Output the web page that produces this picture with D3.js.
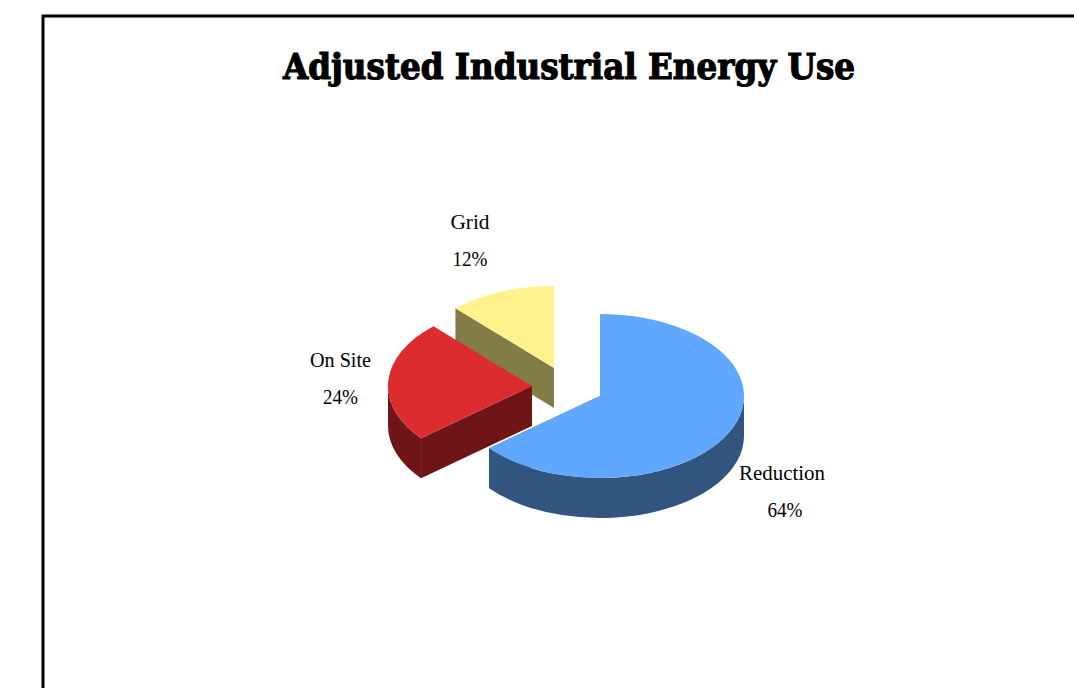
<!DOCTYPE html>
<html>
<head>
<meta charset="utf-8">
<script src="https://cdn.jsdelivr.net/npm/d3@7/dist/d3.min.js"></script>
<style>
html,body{margin:0;padding:0;background:#fff;overflow:hidden}
svg{display:block}
</style>
</head>
<body>
<script>
const titleText = "Adjusted Industrial Energy Use";
const categories = ["Reduction", "On Site", "Grid"];
const values = [64, 24, 12];
const percentLabels = ["64%", "24%", "12%"];
const topColors = ["#60a8ff", "#dd2c30", "#fff28c"];
const sideColors = ["#31557f", "#6f1518", "#827c46"];

const W = 1074, H = 688;
const rx = 144, ry = 82, depth = 40, ratio = ry / rx, depthU = depth / ratio;
const centers = [[600, 396], [532, 386], [554, 368]];
const labelPos = [[782, 473], [340.5, 360], [470, 222]];
const nameWidths = [86, 61, 39];
const percentWidth = 35;
const lineGap = 37;

const svg = d3.select("body").append("svg").attr("width", W).attr("height", H);
svg.append("rect").attr("width", W).attr("height", H).attr("fill", "#fff");

svg.append("path")
  .attr("d", `M43,${H + 5}V16H${W + 5}`)
  .attr("fill", "none").attr("stroke", "#000").attr("stroke-width", 3);

svg.append("text").text(titleText)
  .attr("x", 569).attr("y", 79)
  .attr("text-anchor", "middle")
  .attr("textLength", 572).attr("lengthAdjust", "spacingAndGlyphs")
  .style("font-family", "'DejaVu Serif Condensed','DejaVu Serif',serif")
  .style("font-stretch", "condensed")
  .style("font-weight", 900).style("font-size", "35px")
  .attr("stroke", "#000").attr("stroke-width", 1.1)
  .attr("fill", "#000");

const slices = d3.pie().sort(null).value(d => d)(values);
const arc = d3.arc().innerRadius(0).outerRadius(rx);
const toCanvas = a => a - Math.PI / 2;

function radialSide(a) {
  const p = d3.path();
  const x = rx * Math.cos(toCanvas(a)), y = rx * Math.sin(toCanvas(a));
  p.moveTo(0, 0); p.lineTo(x, y); p.lineTo(x, y + depthU); p.lineTo(0, depthU); p.closePath();
  return p.toString();
}
function outerSide(a0, a1) {
  const p = d3.path();
  p.moveTo(rx * Math.cos(toCanvas(a0)), rx * Math.sin(toCanvas(a0)));
  p.arc(0, 0, rx, toCanvas(a0), toCanvas(a1), false);
  p.lineTo(rx * Math.cos(toCanvas(a1)), rx * Math.sin(toCanvas(a1)) + depthU);
  p.arc(0, depthU, rx, toCanvas(a1), toCanvas(a0), true);
  p.closePath();
  return p.toString();
}

// Painter's order: back slice first
[2, 1, 0].forEach(i => {
  const s = slices[i];
  const g = svg.append("g")
    .attr("transform", `translate(${centers[i][0]},${centers[i][1]}) scale(1,${ratio})`);
  const side = d => g.append("path").attr("d", d).attr("fill", sideColors[i]);

  // Radial cut wall that faces the viewer
  side(radialSide(i === 0 ? s.endAngle : s.startAngle));

  // Outer rim, front half only (angles PI/2 .. 3PI/2 from 12 o'clock)
  const a0 = Math.max(s.startAngle, Math.PI / 2), a1 = Math.min(s.endAngle, 3 * Math.PI / 2);
  if (a1 > a0) side(outerSide(a0, a1));

  g.append("path").attr("d", arc(s)).attr("fill", topColors[i]);
});

categories.forEach((c, i) => {
  const g = svg.append("g");
  const style = t => t.attr("text-anchor", "middle")
    .attr("lengthAdjust", "spacingAndGlyphs")
    .style("font-family", "'Liberation Serif',serif")
    .style("font-size", "22px").attr("fill", "#000");
  g.append("text").text(c).attr("x", labelPos[i][0]).attr("y", labelPos[i][1] + 7)
    .attr("textLength", nameWidths[i]).call(style);
  g.append("text").text(percentLabels[i]).attr("x", labelPos[i][0] + (i === 0 ? 3 : 0)).attr("y", labelPos[i][1] + 7 + lineGap)
    .attr("textLength", percentWidth).call(style);
});
</script>
</body>
</html>
